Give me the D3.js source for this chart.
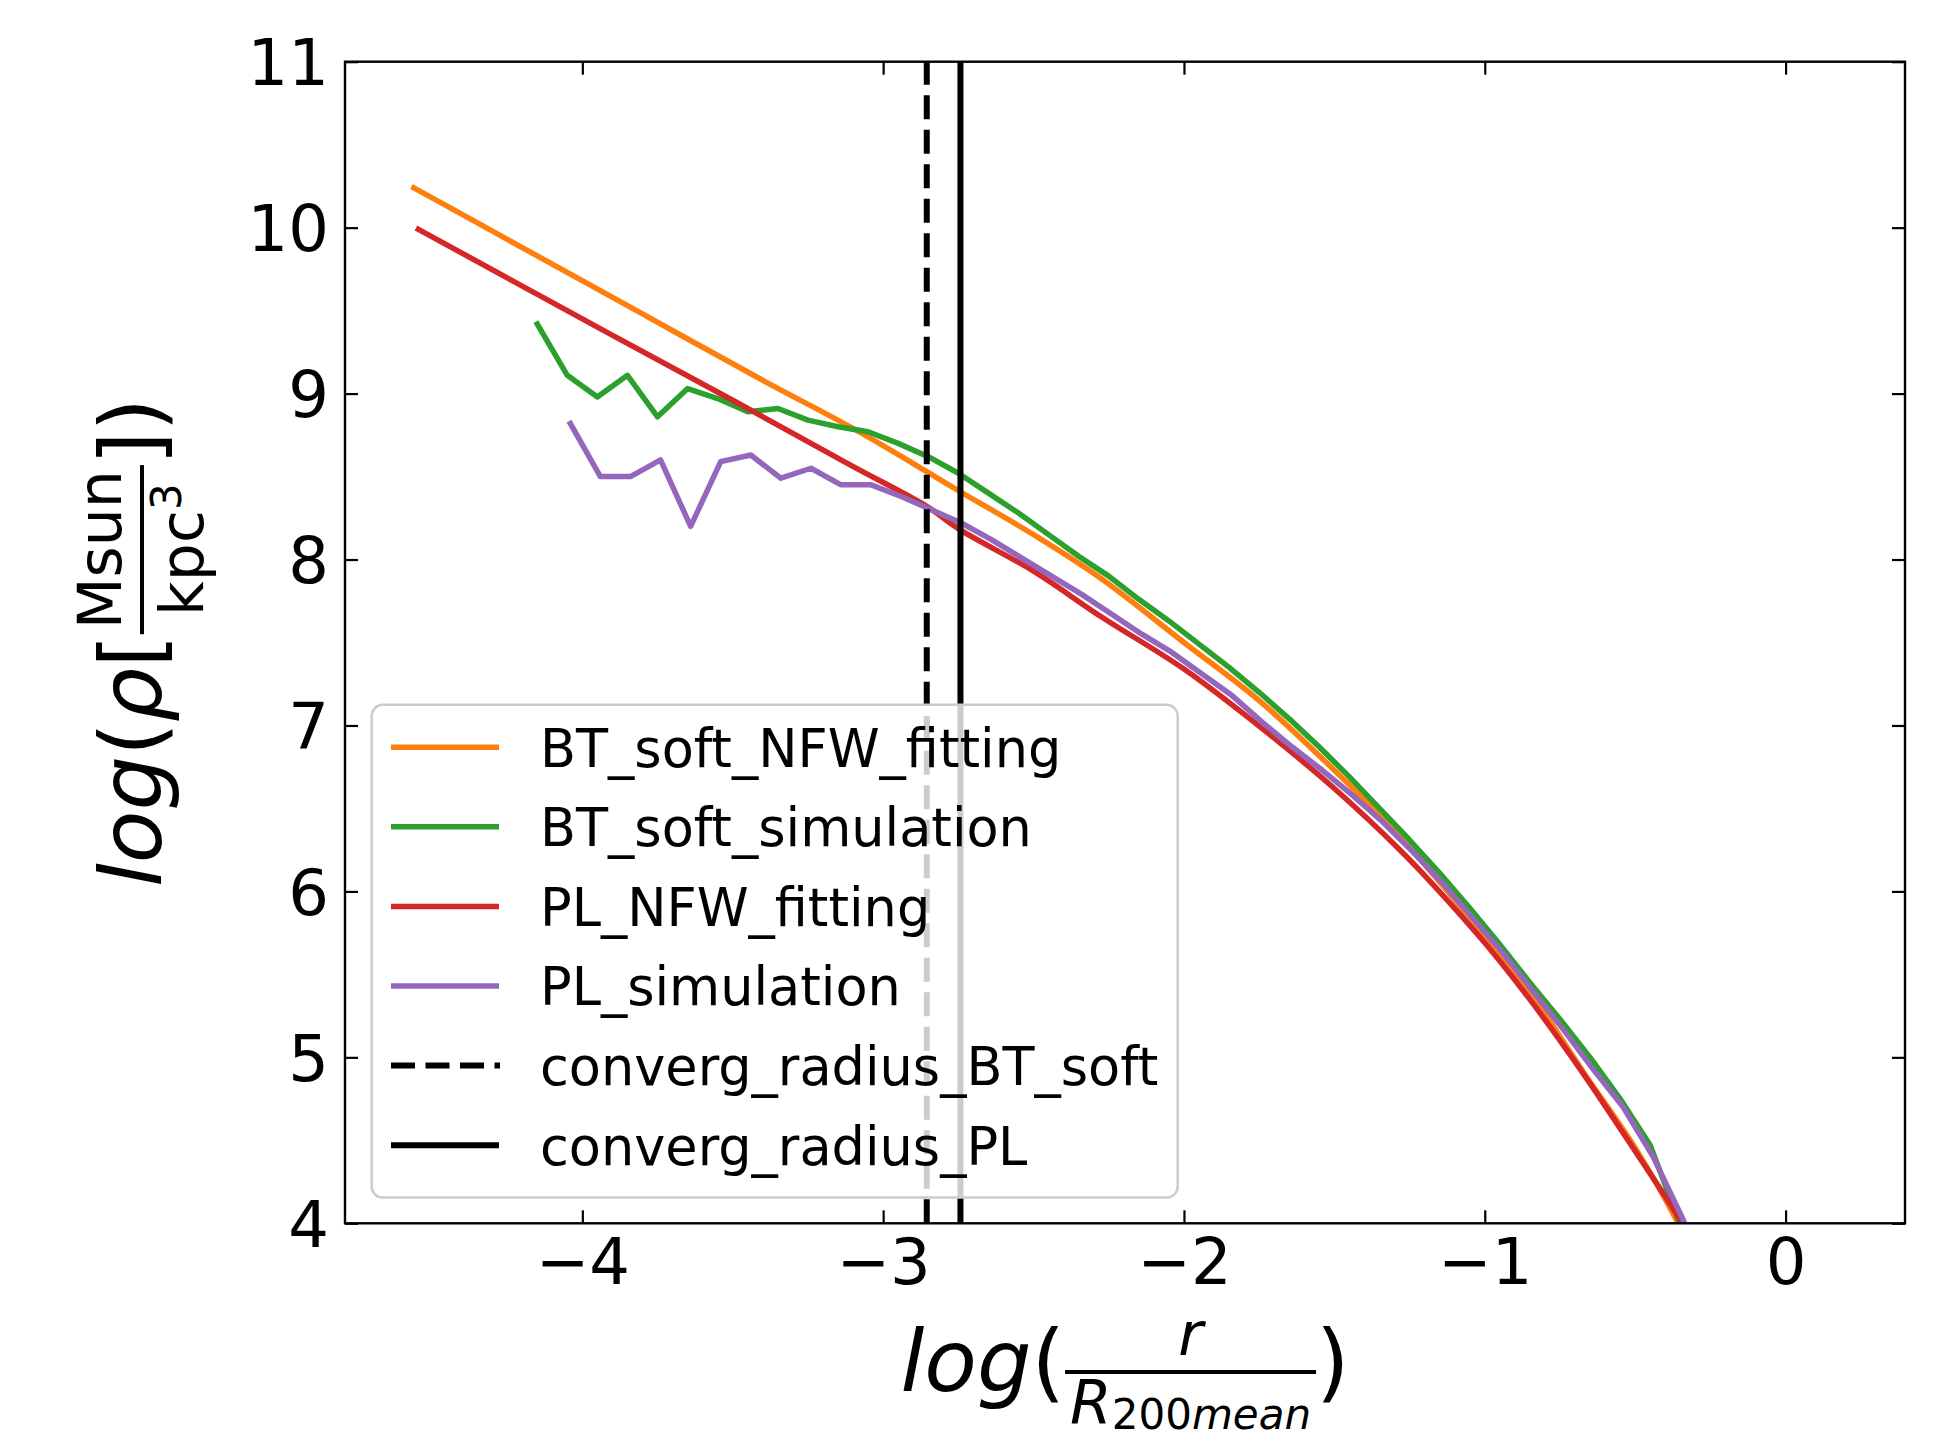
<!DOCTYPE html>
<html><head><meta charset="utf-8">
<script src="https://cdn.jsdelivr.net/npm/d3@7"></script>
<style>
body{margin:0;background:#fff}
svg{display:block}
text{font-family:"DejaVu Sans",sans-serif;fill:#000}
</style>
</head><body>
<svg id="chart" width="1956" height="1439"></svg>
<script>
// ---------------- data ----------------
const xTicks = [-4, -3, -2, -1, 0];
const yTicks = [4, 5, 6, 7, 8, 9, 10, 11];

const seriesNames = ["BT_soft_NFW_fitting", "BT_soft_simulation", "PL_NFW_fitting", "PL_simulation"];
const seriesColors = ["#ff7f0e", "#2ca02c", "#d62728", "#9467bd"];

const btFitX = [-4.56,-4.2,-3.8,-3.4,-3.1,-2.855,-2.745,-2.5,-2.279,-2.0,-1.75,-1.5,-1.282,-1.0,-0.834,-0.668,-0.502,-0.357,-0.3];
const btFitY = [10.24,9.88,9.48,9.08,8.79,8.53,8.41,8.15,7.89,7.50,7.15,6.73,6.33,5.73,5.35,4.90,4.46,4.0,3.78];

const btSimX = [-4.15,-4.05,-3.95,-3.85,-3.75,-3.65,-3.55,-3.45,-3.35,-3.25,-3.15,-3.05,-2.95,-2.85,-2.75,-2.65,-2.55,-2.45,-2.35,-2.25,-2.15,-2.05,-1.95,-1.85,-1.75,-1.65,-1.55,-1.45,-1.35,-1.25,-1.15,-1.05,-0.95,-0.85,-0.75,-0.65,-0.55,-0.45,-0.35,-0.25];
const btSimY = [9.42,9.11,8.98,9.11,8.86,9.03,8.97,8.89,8.91,8.84,8.80,8.77,8.70,8.62,8.52,8.40,8.28,8.15,8.02,7.90,7.76,7.63,7.49,7.35,7.20,7.04,6.87,6.69,6.50,6.31,6.11,5.90,5.68,5.45,5.23,5.00,4.75,4.47,3.99,3.5];

const plFitX = [-4.545,-4.0,-3.5,-3.11,-2.855,-2.745,-2.5,-2.279,-2.0,-1.725,-1.5,-1.282,-1.171,-1.0,-0.834,-0.668,-0.502,-0.351,-0.3];
const plFitY = [9.99,9.45,8.96,8.57,8.32,8.18,7.93,7.66,7.34,6.96,6.62,6.25,6.04,5.69,5.31,4.89,4.44,4.02,3.84];

const plSimX = [-4.04,-3.94,-3.84,-3.74,-3.64,-3.54,-3.44,-3.34,-3.24,-3.14,-3.04,-2.94,-2.84,-2.74,-2.64,-2.54,-2.44,-2.34,-2.24,-2.14,-2.04,-1.94,-1.84,-1.74,-1.64,-1.54,-1.44,-1.34,-1.24,-1.14,-1.04,-0.94,-0.84,-0.74,-0.64,-0.54,-0.44,-0.34,-0.24];
const plSimY = [8.82,8.50,8.50,8.60,8.20,8.59,8.63,8.49,8.55,8.45,8.45,8.38,8.30,8.22,8.12,8.01,7.90,7.79,7.67,7.55,7.44,7.31,7.18,7.02,6.87,6.73,6.58,6.42,6.24,6.05,5.84,5.63,5.40,5.17,4.93,4.70,4.40,4.02,3.5];

const convergRadiusBT = -2.855;
const convergRadiusPL = -2.743;
const vlineNames = ["converg_radius_BT_soft", "converg_radius_PL"];

// ---------------- layout ----------------
const L = 345, R = 1905, T = 61.7, B = 1223.3;
const svg = d3.select("#chart");
const x = d3.scaleLinear().domain([-4.789, 0.397]).range([L, R]);
const y = d3.scaleLinear().domain([4, 11]).range([B, T]);

svg.append("defs").append("clipPath").attr("id","clip")
  .append("rect").attr("x",L).attr("y",T).attr("width",R-L).attr("height",B-T);

const plotG = svg.append("g").attr("clip-path","url(#clip)");
const lineSmooth = d3.line().x(d=>x(d[0])).y(d=>y(d[1])).curve(d3.curveCatmullRom.alpha(0.5));
const lineRaw = d3.line().x(d=>x(d[0])).y(d=>y(d[1]));
const allSeries = [
  {d: d3.zip(btFitX, btFitY), gen: lineSmooth},
  {d: d3.zip(btSimX, btSimY), gen: lineRaw},
  {d: d3.zip(plFitX, plFitY), gen: lineSmooth},
  {d: d3.zip(plSimX, plSimY), gen: lineRaw}
];
const LW = 5.5;
allSeries.forEach((s,i)=>{
  plotG.append("path").datum(s.d).attr("d", s.gen)
    .attr("fill","none").attr("stroke", seriesColors[i])
    .attr("stroke-width", LW).attr("stroke-linejoin","round").attr("stroke-linecap","square");
});

// vertical lines (drawn bottom->top like axvline)
const VW = 6;
plotG.append("line").attr("x1",x(convergRadiusBT)).attr("x2",x(convergRadiusBT))
  .attr("y1",B).attr("y2",T).attr("stroke","#000").attr("stroke-width",VW)
  .attr("stroke-dasharray","24,10.5");
plotG.append("line").attr("x1",x(convergRadiusPL)).attr("x2",x(convergRadiusPL))
  .attr("y1",B).attr("y2",T).attr("stroke","#000").attr("stroke-width",VW);

// ---------------- axes ----------------
const tickLen = 13;
const fmt = d=> d<0 ? "\u2212"+Math.abs(d) : String(d);
const axB = svg.append("g").attr("transform",`translate(0,${B})`)
  .call(d3.axisBottom(x).tickValues(xTicks).tickFormat(fmt).tickSizeInner(-tickLen).tickSizeOuter(0).tickPadding(15.5));
const axT = svg.append("g").attr("transform",`translate(0,${T})`)
  .call(d3.axisTop(x).tickValues(xTicks).tickFormat("").tickSizeInner(-tickLen).tickSizeOuter(0));
const axL = svg.append("g").attr("transform",`translate(${L},0)`)
  .call(d3.axisLeft(y).tickValues(yTicks).tickFormat(d3.format("d")).tickSizeInner(-tickLen).tickSizeOuter(0).tickPadding(16));
const axR = svg.append("g").attr("transform",`translate(${R},0)`)
  .call(d3.axisRight(y).tickValues(yTicks).tickFormat("").tickSizeInner(-tickLen).tickSizeOuter(0));
[axB,axT,axL,axR].forEach(a=>{
  a.select(".domain").remove();
  a.selectAll(".tick line").attr("stroke","#000").attr("stroke-width",2.2);
  a.selectAll("text").attr("font-family","DejaVu Sans").attr("font-size",64).attr("fill","#000");
});
axL.selectAll(".tick text").attr("dy","0.36em");

svg.append("rect").attr("x",L).attr("y",T).attr("width",R-L).attr("height",B-T)
  .attr("fill","none").attr("stroke","#000").attr("stroke-width",2.4);

// ---------------- legend ----------------
const lg = svg.append("g");
lg.append("rect").attr("x",371.7).attr("y",704.8).attr("width",806).attr("height",492.7)
  .attr("rx",11).attr("ry",11).attr("fill","#fff").attr("fill-opacity",0.8)
  .attr("stroke","#cccccc").attr("stroke-width",2.5);
const legendLabels = seriesNames.concat(vlineNames);
const legendColors = seriesColors.concat(["#000","#000"]);
legendLabels.forEach((lab,i)=>{
  const yy = 747.2 + i*79.6;
  const ln = lg.append("line").attr("x1",391).attr("x2",i===4?500:499).attr("y1",yy).attr("y2",yy)
    .attr("stroke",legendColors[i]).attr("stroke-width", i>=4?VW:LW);
  if(i===4) ln.attr("stroke-dasharray","24,10.5");
  lg.append("text").attr("x",540).attr("y",yy+19.4).attr("font-size",52.5).text(lab);
});

// ---------------- math labels ----------------
function run(g, pieces){
  let cx = 0;
  pieces.forEach(p=>{
    const t = g.append("text").attr("x",cx).attr("y",p.dy||0)
      .attr("font-size",p.s).attr("font-style",p.it?"italic":"normal").text(p.t);
    cx += t.node().getComputedTextLength();
  });
  return cx;
}
function mathLabel(parent, items){
  let cx = 0;
  items.forEach(it=>{
    if(it.frac){
      const g = parent.append("g");
      const ng = g.append("g"), dg = g.append("g");
      const nw = run(ng, it.frac.num), dw = run(dg, it.frac.den);
      const pad = 5;
      const w = Math.max(nw,dw)+2*pad;
      ng.attr("transform",`translate(${cx+(w-nw)/2},${it.frac.numBase})`);
      dg.attr("transform",`translate(${cx+(w-dw)/2},${it.frac.denBase})`);
      g.append("rect").attr("x",cx).attr("y",-21).attr("width",w).attr("height",4).attr("fill","#000");
      cx += w;
    } else {
      const t = parent.append("text").attr("x",cx).attr("y",0).attr("font-size",it.s)
        .attr("font-style",it.it?"italic":"normal").text(it.t);
      cx += t.node().getComputedTextLength();
    }
  });
  return cx;
}
const M = 86, F = 60, S = 42;
// x label
const xl = svg.append("g");
const xw = mathLabel(xl, [
  {t:"log", s:M, it:true}, {t:"(", s:M},
  {frac:{num:[{t:"r", s:F, it:true}], den:[{t:"R", s:F, it:true},{t:"200", s:S, dy:5},{t:"mean", s:S, it:true, dy:5}], numBase:-36, denBase:33}},
  {t:")", s:M}
]);
xl.attr("transform",`translate(${(L+R)/2 - xw/2},1391)`);
// y label
const yl = svg.append("g");
const yw = mathLabel(yl, [
  {t:"log", s:M, it:true}, {t:"(", s:M}, {t:"\u03C1", s:M, it:true}, {t:"[", s:M},
  {frac:{num:[{t:"Msun", s:F}], den:[{t:"kpc", s:F},{t:"3", s:S, dy:-22}], numBase:-40, denBase:42}},
  {t:"]", s:M}, {t:")", s:M}
]);
yl.attr("transform",`translate(161,${(T+B)/2 + yw/2}) rotate(-90)`);
</script>
</body></html>
